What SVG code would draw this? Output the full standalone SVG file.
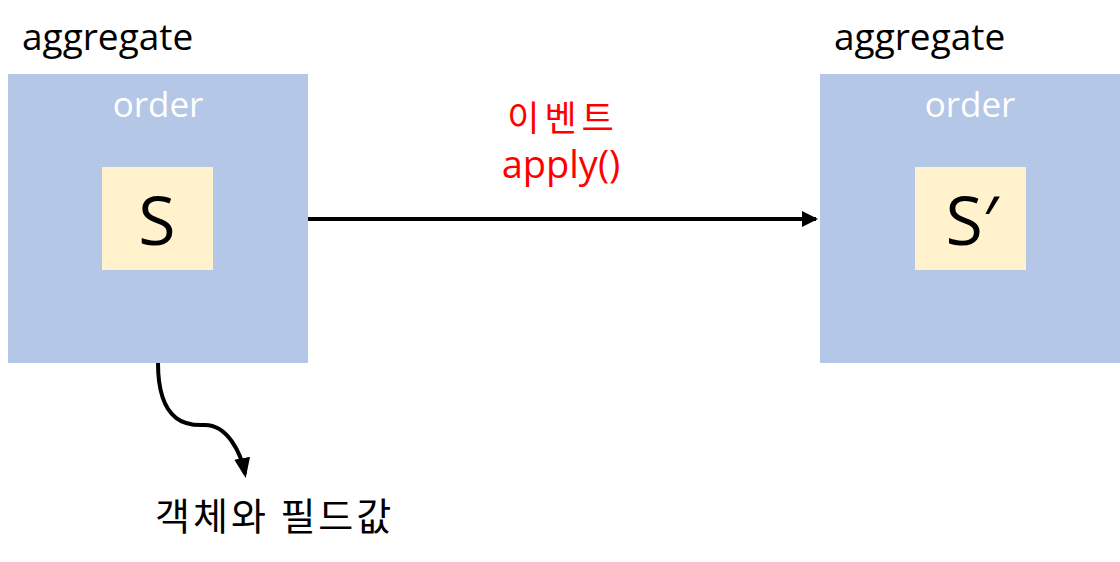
<svg xmlns="http://www.w3.org/2000/svg" width="1120" height="562" viewBox="0 0 1120 562">
<style>
.t{font-family:"Open Sans","Noto Sans","Noto Sans CJK KR",sans-serif;}
.k{font-family:"Noto Sans CJK KR","Noto Sans",sans-serif;}
.agg{font-size:37px;fill:#000;}
.ord{font-size:35px;fill:#ffffff;text-anchor:middle;}
.s{font-size:68px;fill:#000;text-anchor:middle;}
.outer{fill:#b4c7e7;}
.inner{fill:#fff2cc;}
.red{font-size:38px;fill:#ff0000;text-anchor:middle;}
.kred{font-size:35px;letter-spacing:5px;}
.lbl{font-size:38px;fill:#000;letter-spacing:3px;}
.c{fill:none;stroke:#000;stroke-width:4;}
</style>
<defs>
<marker id="ah" markerWidth="4" markerHeight="4" refX="3.5" refY="2" orient="auto" markerUnits="strokeWidth">
<path d="M0,0 L4,2 L0,4 Z" fill="#000"/>
</marker>
<marker id="ah2" markerWidth="5" markerHeight="4" refX="4" refY="2" orient="auto" markerUnits="strokeWidth">
<path d="M0,0 L5,2 L0,4 Z" fill="#000"/>
</marker>
</defs>
<rect width="1120" height="562" fill="#fff"/>
<g id="left">
<text class="t agg" x="22" y="50">aggregate</text>
<rect class="outer" x="8" y="74" width="300" height="289"/>
<text class="t ord" x="158" y="117">order</text>
<rect class="inner" x="102" y="167" width="111" height="103"/>
<text class="t s" x="157" y="245">S</text>
</g>
<g id="right">
<text class="t agg" x="834" y="50">aggregate</text>
<rect class="outer" x="820" y="74" width="300" height="289"/>
<text class="t ord" x="970" y="117">order</text>
<rect class="inner" x="915" y="167" width="111" height="103"/>
<text class="t s" x="972" y="245">S′</text>
</g>
<g id="event-label">
<text class="k red kred" x="563" y="131">이벤트</text>
<text class="t red" x="561" y="178">apply()</text>
</g>
<g id="field-label">
<text class="k lbl" x="155" y="530">객체와 필드값</text>
</g>
<g id="connectors">
<path class="c" d="M308,219 L816,219" marker-end="url(#ah)"/>
<path class="c" d="M158,363 C158,430 195,425 205,425 C227,425 241,452 245,474" marker-end="url(#ah2)"/>
</g>
</svg>
